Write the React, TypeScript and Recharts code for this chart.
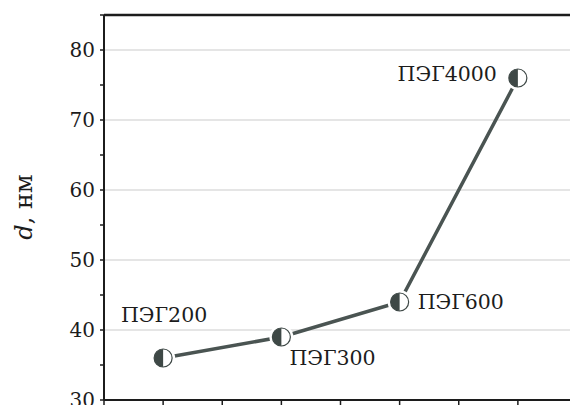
import { LineChart, Line, XAxis, YAxis, CartesianGrid, Label } from "recharts";

const categories = ["ПЭГ200", "ПЭГ300", "ПЭГ600", "ПЭГ4000"];
const positions = [1, 2, 3, 4];
const diameters = [36, 39, 44, 76];
const yTicks = [30, 35, 40, 45, 50, 55, 60, 65, 70, 75, 80, 85];
const yLabelTicks = [30, 40, 50, 60, 70, 80];
const gridValues = [40, 50, 60, 70, 80];
const xTicks = [0.5, 1, 1.5, 2, 2.5, 3, 3.5, 4, 4.5];

// where each name sits relative to its point
const labelPlace = [
  { dx: 1, dy: -43, anchor: "middle" },
  { dx: 8, dy: 21, anchor: "start" },
  { dx: 18, dy: 0, anchor: "start" },
  { dx: -21, dy: -4, anchor: "end" },
];

const data = positions.map((x, i) => ({ x, d: diameters[i], name: categories[i] }));

const FONT = "'DejaVu Serif', serif";
const INK = "#1c1c1c";
const LINE = "#4a5452";
const DOT = "#3e4846";

function HalfDot({ cx, cy }: any) {
  if (cx == null || cy == null) return null;
  const r = 9;
  return (
    <g>
      <circle cx={cx} cy={cy} r={12} fill="#fff" />
      <circle cx={cx} cy={cy} r={r} fill="#fff" stroke={DOT} strokeWidth={1.2} />
      <path d={`M${cx},${cy - r} A${r},${r} 0 0,0 ${cx},${cy + r} Z`} fill={DOT} />
    </g>
  );
}

function YTick({ x, y, payload }: any) {
  if (!yLabelTicks.includes(payload.value)) return <g />;
  return (
    <text x={x} y={y} dy={7} textAnchor="end" fontFamily={FONT} fontSize={20} fill={INK}>
      {payload.value}
    </text>
  );
}

function PointLabel({ x, y, index }: any) {
  const p = labelPlace[index];
  return (
    <text x={x + p.dx} y={y + p.dy} dy={7} textAnchor={p.anchor} fontFamily={FONT} fontSize={20.5} fill={INK}>
      {categories[index]}
    </text>
  );
}

function AxisTitle() {
  const cx = 32;
  const cy = 207;
  return (
    <text x={cx} y={cy} transform={`rotate(-90 ${cx} ${cy})`} textAnchor="middle" fontFamily={FONT} fontSize={24} fill={INK}>
      <tspan fontStyle="italic">d</tspan>
      <tspan>,  нм</tspan>
    </text>
  );
}

export default function App() {
  return (
    <div style={{ position: "absolute", left: 0, top: 0, width: 570, height: 405, overflow: "hidden", background: "#fff" }}>
      <LineChart width={600} height={450} data={data} margin={{ top: 14, right: 23, left: 0, bottom: 20 }}>
        <CartesianGrid vertical={false} horizontalValues={gridValues} stroke="#dcdcdc" strokeWidth={1.5} />
        <XAxis
          xAxisId="bottom"
          type="number"
          dataKey="x"
          domain={[0.5, 4.5]}
          ticks={xTicks}
          tick={() => <g />}
          tickSize={5}
          height={30}
          axisLine={{ stroke: INK, strokeWidth: 2 }}
          tickLine={{ stroke: INK, strokeWidth: 1.5 }}
        />
        <XAxis
          xAxisId="top"
          orientation="top"
          type="number"
          dataKey="x"
          domain={[0.5, 4.5]}
          ticks={xTicks}
          tick={() => <g />}
          tickLine={false}
          height={1}
          axisLine={{ stroke: INK, strokeWidth: 2.5 }}
        />
        <YAxis
          type="number"
          domain={[30, 85]}
          ticks={yTicks}
          width={104}
          tickSize={4}
          tickMargin={5}
          tick={<YTick />}
          axisLine={{ stroke: INK, strokeWidth: 2 }}
          tickLine={{ stroke: INK, strokeWidth: 1.5 }}
          interval={0}
        >
          <Label content={<AxisTitle />} />
        </YAxis>
        <Line
          xAxisId="bottom"
          dataKey="d"
          stroke={LINE}
          strokeWidth={3.5}
          dot={<HalfDot />}
          activeDot={false}
          label={<PointLabel />}
          isAnimationActive={false}
        />
      </LineChart>
    </div>
  );
}
